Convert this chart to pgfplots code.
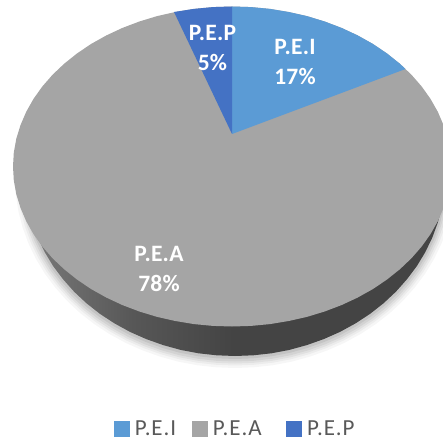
\documentclass[border=0pt]{standalone}
\usepackage{pgfplots}
\pgfplotsset{compat=1.18}
\usepackage{pgfplotstable}
\usepackage{fontspec}
\setmainfont{Carlito}
\newfontfamily\legfont[LetterSpace=4]{Carlito}
\newfontfamily\lblfont[LetterSpace=1]{Carlito}
\definecolor{pei}{HTML}{5B9BD5}
\definecolor{pea}{HTML}{A5A5A5}
\definecolor{pep}{HTML}{4472C4}
\definecolor{legtxt}{HTML}{595959}
\tikzset{lab/.style={text=white,font=\fontsize{23.5}{25}\selectfont\lblfont\bfseries,anchor=center,inner sep=0pt}}
\pgfdeclarehorizontalshading{sideg}{100bp}{color(0bp)=(black!52);color(25bp)=(black!52);color(38bp)=(black!66);color(50bp)=(black!73.5);color(100bp)=(black!73.5)}
\pgfplotstableread{
x y
25 176
25.8 191.7
28.2 207.3
32.2 222.6
37.7 237.6
44.7 252.1
53.1 266
63 279.2
74.1 291.7
86.5 303.3
100 313.9
114.5 323.4
130 331.9
146.3 339.1
163.2 345.1
180.6 349.9
198.5 353.3
216.7 355.3
235 356
253.3 355.3
271.5 353.3
289.4 349.9
306.8 345.1
323.7 339.1
340 331.9
355.5 323.4
370 313.9
383.5 303.3
395.9 291.7
407 279.2
416.9 266
425.3 252.1
432.3 237.6
437.8 222.6
441.8 207.3
444.2 191.7
445 176
}\lowerrim
\pgfplotstableread{
x y
451 166.5
450.2 152.6
447.7 138.7
443.5 125.1
437.8 111.8
430.5 98.9
421.7 86.5
411.4 74.7
399.8 63.7
386.9 53.4
372.8 43.9
357.6 35.4
341.5 27.9
324.6 21.5
306.9 16.1
288.7 12
270 8.9
251.1 7.1
232 6.5
212.9 7.1
194 8.9
175.3 12
157.1 16.1
139.4 21.5
122.5 27.9
106.4 35.4
91.2 43.9
77.1 53.4
64.2 63.7
52.6 74.7
42.3 86.5
33.5 98.9
26.2 111.8
20.5 125.1
16.3 138.7
13.8 152.6
13 166.5
13.8 180.4
16.3 194.3
20.5 207.9
26.2 221.2
33.5 234.1
42.3 246.5
52.6 258.3
64.2 269.3
77.1 279.6
91.2 289.1
106.4 297.6
122.5 305.1
139.4 311.5
157.1 316.9
175.3 321
194 324.1
212.9 325.9
232 326.5
251.1 325.9
270 324.1
288.7 321
306.9 316.9
324.6 311.5
341.5 305.1
357.6 297.6
372.8 289.1
386.9 279.6
399.8 269.3
411.4 258.3
421.7 246.5
430.5 234.1
437.8 221.2
443.5 207.9
447.7 194.3
450.2 180.4
}\topface
\pgfplotstableread{
x y
232 134
232 6.5
251.1 7.1
270 8.9
288.7 12
306.9 16.1
324.6 21.5
341.5 27.9
357.6 35.4
372.8 43.9
386.9 53.4
399.8 63.7
405.5 69
}\sliceI
\pgfplotstableread{
x y
232 134
174 12
194 8.9
212.9 7.1
232 6.5
}\sliceP
\begin{document}
\begin{tikzpicture}
\begin{axis}[
  scale only axis,width=443pt,height=438pt,
  xmin=0,xmax=443,ymin=0,ymax=438,y dir=reverse,
  axis lines=none,no markers,
  legend style={at={(axis cs:114,428.5)},anchor=west,draw=none,fill=none,
    legend columns=3,font=\fontsize{23}{24}\selectfont\legfont\color{legtxt},
    inner sep=0pt,outer sep=0pt,
    /tikz/every odd column/.style={column sep=3.5pt},
    /tikz/every even column/.style={column sep=0pt}},
  legend cell align=left,
]
\addlegendimage{legend image code/.code={\fill[pei] (0pt,-7.5pt) rectangle (15pt,7.5pt);}}
\addlegendimage{legend image code/.code={\fill[pea] (0pt,-7.5pt) rectangle (15pt,7.5pt);}}
\addlegendimage{legend image code/.code={\fill[pep] (0pt,-7.5pt) rectangle (15pt,7.5pt);}}
\legend{\makebox[55pt][l]{P.E.I},\makebox[71.5pt][l]{P.E.A},\makebox[47pt][l]{P.E.P}}
% soft shadow
\addplot[forget plot,draw=black,opacity=.035,line width=20pt,line join=round] table[y expr=\thisrow{y}+2] {\lowerrim};
\addplot[forget plot,draw=black,opacity=.04,line width=15pt,line join=round] table[y expr=\thisrow{y}+2] {\lowerrim};
\addplot[forget plot,draw=black,opacity=.05,line width=11pt,line join=round] table[y expr=\thisrow{y}+2] {\lowerrim};
\addplot[forget plot,draw=black,opacity=.06,line width=7pt,line join=round] table[y expr=\thisrow{y}+2] {\lowerrim};
\addplot[forget plot,draw=black,opacity=.07,line width=4pt,line join=round] table[y expr=\thisrow{y}+1] {\lowerrim};
% side
\addplot[forget plot,draw=none,shade,shading=sideg] table {\lowerrim} --cycle;
% top
\addplot[forget plot,draw=none,fill=pea] table {\topface} --cycle;
\addplot[forget plot,draw=none,fill=pei] table {\sliceI} --cycle;
\addplot[forget plot,draw=none,fill=pep] table {\sliceP} --cycle;
% labels
\node[lab] at (axis cs:295,47) {P.E.I};
\node[lab] at (axis cs:295,76) {17\%};
\node[lab] at (axis cs:212.5,33) {P.E.P};
\node[lab] at (axis cs:212.5,62) {5\%};
\node[lab] at (axis cs:159,254) {P.E.A};
\node[lab] at (axis cs:159,283) {78\%};
\end{axis}
\pgfresetboundingbox
\path[use as bounding box] (0,0) rectangle (443pt,438pt);
\end{tikzpicture}
\end{document}
